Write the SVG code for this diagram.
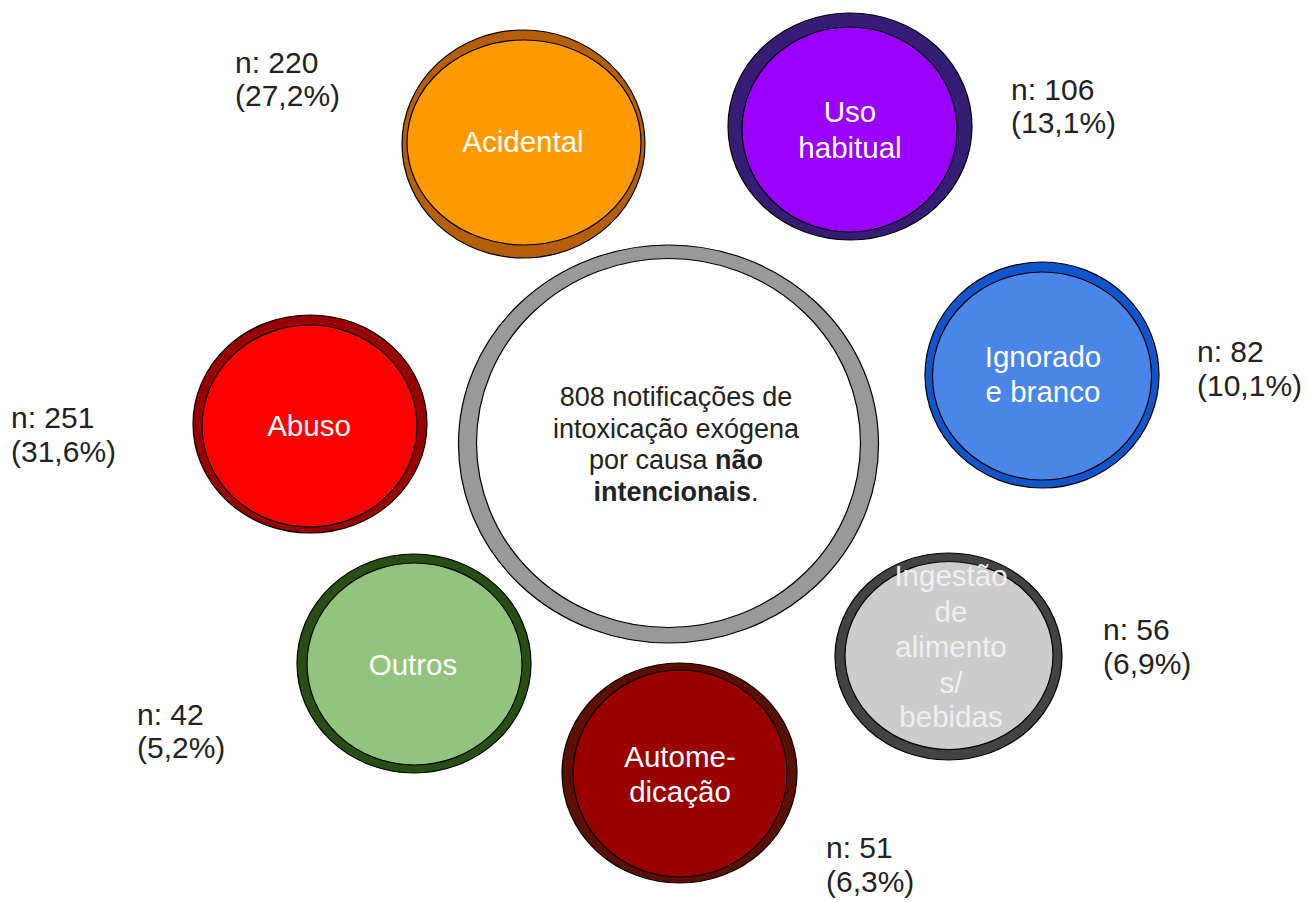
<svg xmlns="http://www.w3.org/2000/svg" width="1310" height="902" viewBox="0 0 1310 902">
<style>
text{font-family:"Liberation Sans",Arial,sans-serif;}
.ol{stroke:#000;stroke-width:1.2;}
.lbl{font-size:29.5px;fill:#ffffff;text-anchor:middle;}
.g{fill:#efefef;}
.n{font-size:30px;fill:#222222;}
.c{font-size:27px;fill:#222222;text-anchor:middle;}
</style>
<rect width="1310" height="902" fill="#ffffff"/>
<g id="connectors"></g>
<g id="center">
<ellipse class="ol" cx="668.5" cy="444" rx="210" ry="199" fill="#999999"/>
<ellipse class="ol" cx="668.5" cy="443" rx="192" ry="184.5" fill="#ffffff"/>
<text class="c" x="676" y="406">808 notificações de</text>
<text class="c" x="676" y="437.5">intoxicação exógena</text>
<text class="c" x="676" y="469">por causa <tspan font-weight="bold">não</tspan></text>
<text class="c" x="676" y="501"><tspan font-weight="bold">intencionais</tspan>.</text>
</g>
<g id="acidental">
<ellipse class="ol" cx="523.5" cy="144" rx="121.5" ry="114" fill="#b45f06"/>
<ellipse class="ol" cx="524" cy="142.5" rx="117" ry="102.5" fill="#ff9900"/>
<text class="lbl" x="523" y="152">Acidental</text>
<text class="n" x="235" y="73">n: 220</text>
<text class="n" x="235" y="106">(27,2%)</text>
</g>
<g id="uso-habitual">
<ellipse class="ol" cx="850" cy="126.5" rx="122" ry="113.5" fill="#351c75"/>
<ellipse class="ol" cx="849.5" cy="129.5" rx="107.5" ry="102.5" fill="#9900ff"/>
<text class="lbl" x="850" y="122">Uso</text>
<text class="lbl" x="850" y="158">habitual</text>
<text class="n" x="1011" y="100">n: 106</text>
<text class="n" x="1011" y="133">(13,1%)</text>
</g>
<g id="ignorado">
<ellipse class="ol" cx="1042" cy="375" rx="117" ry="113" fill="#1155cc"/>
<ellipse class="ol" cx="1042" cy="376" rx="109.5" ry="104" fill="#4a86e8"/>
<text class="lbl" x="1043" y="367">Ignorado</text>
<text class="lbl" x="1043" y="402">e branco</text>
<text class="n" x="1197" y="362">n: 82</text>
<text class="n" x="1197" y="396">(10,1%)</text>
</g>
<g id="abuso">
<ellipse class="ol" cx="310" cy="424" rx="117" ry="109" fill="#990000"/>
<ellipse class="ol" cx="309.5" cy="426" rx="107.5" ry="101" fill="#ff0000"/>
<text class="lbl" x="309" y="436">Abuso</text>
<text class="n" x="11" y="428">n: 251</text>
<text class="n" x="11" y="462">(31,6%)</text>
</g>
<g id="outros">
<ellipse class="ol" cx="414" cy="663.5" rx="117" ry="109.5" fill="#274e13"/>
<ellipse class="ol" cx="414.5" cy="664" rx="107.5" ry="101" fill="#93c47d"/>
<text class="lbl" x="413" y="675">Outros</text>
<text class="n" x="137" y="725">n: 42</text>
<text class="n" x="137" y="758">(5,2%)</text>
</g>
<g id="automedicacao">
<ellipse class="ol" cx="679.5" cy="773" rx="117.5" ry="110" fill="#5b0f00"/>
<ellipse class="ol" cx="680" cy="773.5" rx="107" ry="103.5" fill="#990000"/>
<text class="lbl" x="680" y="767">Autome-</text>
<text class="lbl" x="680" y="802">dicação</text>
<text class="n" x="826" y="858">n: 51</text>
<text class="n" x="826" y="892">(6,3%)</text>
</g>
<g id="ingestao">
<ellipse class="ol" cx="948.5" cy="656.5" rx="113.5" ry="103.5" fill="#434343"/>
<ellipse class="ol" cx="949" cy="655.5" rx="104" ry="94" fill="#cccccc"/>
<text class="lbl g" x="951" y="586">Ingestão</text>
<text class="lbl g" x="951" y="622">de</text>
<text class="lbl g" x="951" y="657">alimento</text>
<text class="lbl g" x="951" y="693">s/</text>
<text class="lbl g" x="951" y="727">bebidas</text>
<text class="n" x="1103" y="640">n: 56</text>
<text class="n" x="1103" y="674">(6,9%)</text>
</g>
</svg>
